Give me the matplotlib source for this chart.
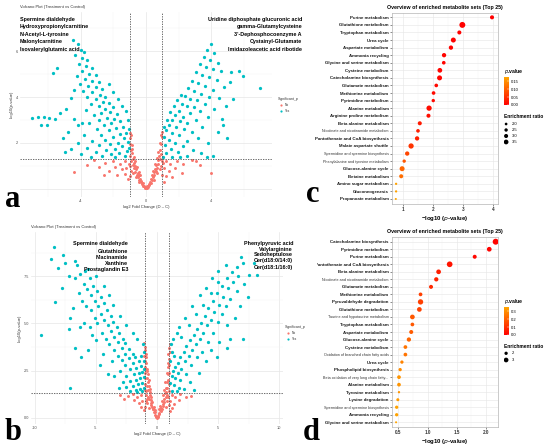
import numpy as np
import matplotlib.pyplot as plt
from matplotlib.colors import LinearSegmentedColormap, Normalize
from matplotlib.cm import ScalarMappable
from matplotlib.transforms import Bbox, TransformedBbox

plt.rcParams['font.family'] = ['Liberation Sans', 'DejaVu Sans']

# ---------------- data ----------------
# panel a volcano: (log2 FC, -log10 p)
a_sig = [
    (-4.5, 6.5), (-4.2, 6.3), (-4.0, 6.05), (-3.8, 5.95), (-4.35, 5.85), (-3.95, 5.7), (-3.6, 5.6),
    (-4.15, 5.45), (-3.7, 5.35), (-3.35, 5.25), (-3.95, 5.15), (-5.7, 5.05), (-5.45, 5.25), (-3.5, 5.0),
    (-3.1, 4.95), (-4.25, 4.9), (-3.75, 4.8), (-3.3, 4.7), (-2.9, 4.65), (-4.05, 4.55), (-3.55, 4.5),
    (-3.05, 4.45), (-2.7, 4.35), (-4.4, 4.3), (-3.85, 4.25), (-3.3, 4.2), (-2.85, 4.1), (-2.5, 4.0),
    (-3.6, 4.0), (-4.6, 3.95), (-3.1, 3.9), (-2.65, 3.8), (-2.3, 3.75), (-3.4, 3.7), (-2.9, 3.6),
    (-2.0, 3.55), (-2.5, 3.5), (-3.7, 3.45), (-2.2, 3.35), (-2.75, 3.3), (-1.8, 3.25), (-3.2, 3.2),
    (-2.4, 3.1), (-1.95, 3.05), (-2.9, 3.0), (-1.6, 2.95), (-2.15, 2.85), (-3.5, 2.85), (-2.6, 2.8),
    (-1.4, 2.7), (-1.85, 2.65), (-3.0, 2.6), (-2.3, 2.55), (-1.2, 2.45), (-1.6, 2.4), (-2.75, 2.35),
    (-3.8, 2.35), (-2.0, 2.25), (-1.35, 2.2), (-2.5, 2.15), (-3.3, 2.1), (-1.1, 2.05), (-1.75, 2.0),
    (-4.2, 2.0), (-2.2, 1.95), (-2.9, 1.9), (-1.45, 1.85), (-3.6, 1.8), (-1.9, 1.75), (-2.45, 1.7),
    (-1.15, 1.65), (-3.1, 1.6), (-1.65, 1.55), (-2.15, 1.5), (-4.0, 1.5), (-2.7, 1.45), (-1.3, 1.45),
    (-1.9, 1.4), (-3.4, 1.4), (-1.05, 2.6), (-1.1, 3.0), (-1.05, 1.8), (-1.25, 3.4), (-1.5, 3.6),
    (-1.7, 3.9), (-2.05, 4.2), (-2.3, 4.55), (-7.0, 3.1), (-6.65, 3.15), (-6.3, 3.15), (-5.95, 3.1),
    (-5.6, 3.05), (-6.45, 2.8), (-6.1, 2.8), (-5.3, 3.3), (-4.95, 3.5), (-4.4, 3.05), (-4.2, 2.8),
    (-3.95, 2.85), (-4.8, 2.5), (-5.1, 2.2), (-4.6, 1.75), (-5.0, 1.6),
    (4.0, 6.3), (3.75, 6.05), (4.2, 5.9), (3.55, 5.75), (3.95, 5.6), (4.4, 5.5), (3.3, 5.45), (3.7, 5.3),
    (4.15, 5.2), (4.6, 5.15), (3.1, 5.1), (3.45, 4.95), (3.9, 4.85), (4.35, 4.75), (2.85, 4.7), (3.2, 4.6),
    (3.65, 4.5), (4.8, 4.45), (2.6, 4.4), (4.1, 4.3), (2.95, 4.25), (3.4, 4.15), (2.4, 4.05), (3.85, 4.0),
    (4.5, 3.95), (2.7, 3.9), (3.15, 3.85), (2.2, 3.7), (3.6, 3.7), (2.5, 3.6), (2.95, 3.55), (4.2, 3.5),
    (2.0, 3.4), (3.3, 3.4), (2.7, 3.3), (1.8, 3.2), (2.3, 3.15), (3.8, 3.15), (1.6, 3.0), (3.05, 3.0),
    (2.1, 2.95), (2.55, 2.85), (1.4, 2.8), (1.85, 2.7), (3.45, 2.7), (2.35, 2.6), (1.2, 2.55), (2.85, 2.5),
    (1.6, 2.45), (4.4, 2.5), (2.05, 2.35), (1.1, 2.25), (3.2, 2.2), (1.4, 2.15), (2.55, 2.1), (1.8, 2.0),
    (3.8, 2.0), (1.15, 1.9), (2.25, 1.85), (1.55, 1.75), (2.9, 1.7), (1.95, 1.6), (1.2, 1.55), (3.4, 1.55),
    (2.5, 1.45), (1.6, 1.4), (1.05, 1.4), (4.1, 1.45), (2.1, 1.4), (1.3, 3.0), (1.5, 3.35), (1.7, 3.6),
    (1.9, 3.85), (2.15, 4.1), (1.1, 2.7), (5.2, 5.1), (5.7, 5.15), (5.95, 4.9), (7.0, 4.4), (4.65, 3.05),
    (5.15, 4.65), (4.9, 3.6), (5.35, 3.9), (4.75, 2.8), (5.0, 2.2), (3.75, 1.4),
]
a_ns = [
    (-1.0, 2.45), (-0.97, 2.2), (-0.99, 1.95), (-0.93, 1.7), (-0.96, 1.45), (-0.9, 1.2), (-0.97, 1.0),
    (-0.88, 1.9), (-0.85, 1.55), (-0.8, 1.3), (-0.82, 1.05), (-0.75, 1.15), (-0.72, 0.9), (-0.68, 1.0),
    (-0.65, 0.75), (-0.6, 0.85), (-0.57, 0.6), (-0.52, 0.7), (-0.48, 0.5), (-0.44, 0.6), (-0.4, 0.4),
    (-0.36, 0.45), (-0.32, 0.3), (-0.28, 0.35), (-0.24, 0.22), (-0.2, 0.25), (-0.16, 0.12), (-0.12, 0.15),
    (-0.08, 0.05), (-0.04, 0.08), (0.0, 0.02), (0.04, 0.06), (0.08, 0.12), (0.12, 0.1), (0.16, 0.22),
    (0.2, 0.18), (0.24, 0.32), (0.28, 0.28), (0.32, 0.45), (0.36, 0.38), (0.4, 0.58), (0.44, 0.5),
    (0.48, 0.72), (0.52, 0.62), (0.56, 0.88), (0.6, 0.78), (0.64, 1.05), (0.68, 0.92), (0.72, 1.25),
    (0.76, 1.1), (0.8, 1.45), (0.84, 1.3), (0.88, 1.7), (0.92, 1.5), (0.95, 1.95), (0.98, 2.25),
    (1.0, 2.5), (0.96, 1.2), (0.9, 1.0), (-0.92, 0.8), (-0.78, 0.7), (-0.62, 0.5), (-0.45, 0.3),
    (0.5, 0.4), (0.7, 0.7), (0.86, 0.85), (-1.3, 1.2), (-1.6, 1.1), (-2.0, 1.2), (-2.5, 1.15),
    (-3.2, 1.25), (-1.2, 0.9), (-1.5, 0.85), (-1.9, 0.95), (-2.3, 0.8), (-2.9, 0.95), (-3.6, 1.05),
    (-1.3, 0.65), (-1.8, 0.6), (-2.6, 0.6), (-4.4, 0.75), (-1.1, 0.45), (-1.05, 1.1), (1.2, 1.2),
    (1.5, 1.1), (1.9, 1.2), (2.3, 1.1), (2.8, 1.25), (1.1, 0.9), (1.4, 0.8), (1.8, 0.9), (2.2, 0.7),
    (1.2, 0.55), (1.6, 0.5), (4.0, 0.68), (3.3, 1.05), (1.1, 0.3), (1.05, 1.15), (3.1, 1.2),
    (-0.94, 2.35), (-0.86, 1.75), (-0.76, 1.4), (-0.66, 1.2), (-0.56, 0.95), (-0.46, 0.75), (-0.36, 0.6),
    (0.36, 0.6), (0.46, 0.8), (0.56, 1.1), (0.66, 1.35), (0.76, 1.6), (0.86, 2.0), (0.93, 2.35),
    (-0.98, 0.55), (0.98, 0.6),
]
a_down_names = ["Spermine dialdehyde", "Hydroxypropionylcarnitine", "N-Acetyl-L-tyrosine",
                "Malonylcarnitine", "Isovalerylglutamic acid"]
a_up_names = ["Uridine diphosphate glucuronic acid", "gamma-Glutamylcysteine",
              "3'-Dephosphocoenzyme A", "Cystainyl-Glutamate", "Imidazoleacetic acid ribotide"]

# panel b volcano
b_sig = [
    (-8.4, 9.05), (-8.7, 8.4), (-7.7, 8.6), (-8.1, 7.95), (-7.5, 8.2), (-6.7, 8.3), (-6.55, 8.1),
    (-7.8, 6.9), (-8.3, 6.15), (-9.45, 4.4), (-7.1, 5.3), (-7.2, 4.7), (-6.7, 3.7), (-6.2, 3.25),
    (-7.1, 1.57), (-6.9, 5.8), (-6.3, 4.8), (-6.3, 7.6), (-5.9, 7.8), (-5.5, 7.4), (-6.0, 7.1),
    (-5.2, 7.0), (-5.7, 6.8), (-6.4, 6.6), (-4.9, 6.7), (-5.4, 6.5), (-6.1, 6.2), (-4.6, 6.4),
    (-5.1, 6.2), (-5.8, 5.9), (-4.3, 6.1), (-4.8, 5.9), (-5.4, 5.7), (-4.1, 5.7), (-4.6, 5.5),
    (-5.1, 5.3), (-3.8, 5.4), (-4.3, 5.2), (-4.9, 5.0), (-3.6, 5.1), (-4.0, 4.9), (-5.5, 4.8),
    (-3.3, 4.8), (-3.8, 4.6), (-4.5, 4.5), (-3.1, 4.5), (-3.5, 4.3), (-4.2, 4.2), (-2.8, 4.2),
    (-3.2, 4.0), (-3.9, 3.9), (-2.6, 3.95), (-5.0, 4.1), (-2.9, 3.7), (-3.5, 3.6), (-2.3, 3.65),
    (-2.0, 3.4), (-2.6, 3.4), (-3.2, 3.3), (-4.4, 3.4), (-1.8, 3.2), (-2.3, 3.15), (-2.9, 3.05),
    (-3.7, 3.0), (-1.5, 3.0), (-2.0, 2.9), (-2.6, 2.8), (-1.3, 2.75), (-1.7, 2.65), (-2.2, 2.6),
    (-3.0, 2.5), (-1.2, 2.45), (-1.5, 2.4), (-1.9, 2.3), (-2.5, 2.2), (-3.5, 2.2), (-1.1, 2.15),
    (-1.4, 2.1), (-1.75, 2.0), (-2.2, 1.95), (-2.8, 1.9), (-1.2, 1.85), (-1.55, 1.8), (-1.95, 1.7),
    (-2.5, 1.65), (-1.1, 1.6), (-1.35, 1.55), (-1.75, 1.5), (-2.2, 1.45), (-3.1, 1.6), (-1.2, 1.4),
    (-1.6, 1.38), (-1.05, 3.0), (-1.1, 3.5), (-1.15, 3.9), (-1.3, 3.3), (-1.05, 2.6), (-4.7, 2.8),
    (-4.0, 2.3), (-5.6, 3.6), (-6.0, 5.0), (-5.3, 4.4), (-6.7, 7.4), (-7.2, 7.5), (-3.9, 6.5),
    (-3.6, 6.0), (-3.0, 5.4), (-2.5, 4.9), (-2.0, 4.5), (-1.6, 4.2), (-4.3, 7.0), (-5.0, 7.5),
    (-5.6, 7.9),
    (6.9, 8.5), (7.9, 8.2), (7.5, 7.57), (8.2, 7.57), (7.0, 8.2), (6.5, 8.0), (6.1, 7.7), (6.6, 7.5),
    (5.7, 7.4), (6.2, 7.2), (7.1, 7.1), (5.3, 7.0), (5.8, 6.9), (6.5, 6.7), (4.9, 6.6), (5.4, 6.4),
    (6.0, 6.3), (4.6, 6.2), (5.1, 6.0), (5.6, 5.9), (6.8, 5.9), (4.2, 5.8), (4.7, 5.6), (5.3, 5.5),
    (3.9, 5.4), (4.4, 5.2), (5.0, 5.1), (3.6, 5.0), (4.1, 4.9), (5.7, 4.9), (3.3, 4.7), (3.8, 4.5),
    (4.6, 4.5), (3.0, 4.4), (3.5, 4.2), (2.7, 4.1), (4.2, 4.0), (3.2, 3.9), (2.4, 3.8), (2.9, 3.6),
    (3.7, 3.5), (2.2, 3.5), (2.6, 3.3), (3.3, 3.2), (1.9, 3.2), (2.3, 3.0), (4.0, 3.0), (1.7, 2.9),
    (2.8, 2.8), (1.5, 2.7), (2.0, 2.6), (1.3, 2.5), (1.7, 2.4), (2.4, 2.3), (3.4, 2.4), (1.2, 2.2),
    (1.5, 2.1), (1.9, 2.0), (2.7, 1.9), (1.1, 1.85), (1.4, 1.75), (1.8, 1.6), (2.2, 1.55), (1.2, 1.45),
    (1.6, 1.4), (3.0, 1.5), (1.1, 3.0), (1.2, 3.5), (1.15, 3.9), (1.3, 4.2), (1.6, 4.5), (1.4, 3.3),
    (6.0, 4.2), (7.0, 4.2), (5.7, 3.7), (4.9, 3.25), (6.4, 5.3), (7.4, 6.4), (5.1, 4.0), (4.4, 3.6),
    (1.8, 4.8), (2.3, 5.3), (2.9, 5.9), (3.5, 6.5), (4.0, 6.9), (4.5, 7.4), (5.0, 7.8), (5.6, 8.1),
    (2.0, 4.3), (2.6, 4.9), (3.2, 5.5), (3.8, 6.0), (4.4, 6.6), (5.0, 7.2),
]
b_ns = [
    (-1.05, 3.95), (-1.0, 3.6), (-1.03, 3.3), (-0.98, 3.0), (-1.02, 2.7), (-0.95, 2.4), (-1.0, 2.1),
    (-0.96, 1.8), (-1.0, 1.5), (-0.93, 1.2), (-0.9, 3.4), (-0.88, 2.9), (-0.85, 2.5), (-0.82, 2.1),
    (-0.8, 1.7), (-0.86, 1.4), (-0.75, 2.3), (-0.72, 1.9), (-0.7, 1.5), (-0.74, 1.1), (-0.65, 1.7),
    (-0.6, 1.35), (-0.62, 1.0), (-0.55, 1.2), (-0.5, 0.95), (-0.52, 0.7), (-0.45, 0.8), (-0.4, 0.6),
    (-0.36, 0.45), (-0.3, 0.5), (-0.26, 0.3), (-0.2, 0.3), (-0.15, 0.15), (-0.1, 0.12), (-0.05, 0.05),
    (0.0, 0.0), (0.05, 0.06), (0.1, 0.12), (0.15, 0.2), (0.2, 0.28), (0.25, 0.4), (0.3, 0.35),
    (0.35, 0.55), (0.4, 0.5), (0.45, 0.75), (0.5, 0.65), (0.55, 1.0), (0.6, 0.85), (0.65, 1.3),
    (0.7, 1.1), (0.72, 1.6), (0.76, 1.35), (0.8, 1.9), (0.84, 1.6), (0.86, 2.3), (0.9, 2.0),
    (0.92, 2.7), (0.95, 2.4), (0.98, 3.1), (1.0, 2.8), (1.03, 3.5), (1.05, 3.9), (1.0, 1.8),
    (0.96, 1.4), (0.9, 1.1), (-0.92, 0.9), (-0.8, 0.8), (-0.65, 0.55), (0.7, 0.6), (0.85, 0.9),
    (-1.3, 1.2), (-1.6, 1.1), (-2.0, 1.25), (-2.4, 1.15), (-1.2, 0.9), (-1.5, 0.8), (-1.9, 0.95),
    (-2.7, 1.0), (-1.3, 0.6), (-1.1, 0.4), (-3.0, 1.2), (1.2, 1.2), (1.5, 1.1), (1.9, 1.25),
    (2.4, 1.1), (1.1, 0.9), (1.4, 0.75), (1.8, 0.95), (2.8, 1.15), (1.2, 0.55), (1.05, 0.35),
    (-0.98, 3.75), (-0.94, 3.2), (-0.9, 2.6), (-0.78, 2.6), (-0.68, 2.0), (-0.58, 1.55), (-0.48, 1.1),
    (-0.38, 0.85), (-0.28, 0.6), (-0.18, 0.4), (0.18, 0.45), (0.28, 0.65), (0.38, 0.9), (0.48, 1.2),
    (0.58, 1.5), (0.68, 1.9), (0.78, 2.4), (0.88, 2.9), (0.94, 3.4), (0.99, 3.7), (-0.95, 0.6),
    (0.95, 0.7), (-0.85, 1.0), (0.8, 1.2),
]
b_down_names = ["Spermine dialdehyde", "Glutathione", "Niacinamide", "Xanthine", "Prostaglandin E3"]
b_up_names = ["Phenylpyruvic acid", "Valylarginine", "Sedoheptulose", "Cer(d18:0/14:0)", "Cer(d18:1/16:0)"]

# panel c enrichment (Top 25)
c_sets = ["Purine metabolism", "Glutathione metabolism", "Tryptophan metabolism", "Urea cycle",
          "Aspartate metabolism", "Ammonia recycling", "Glycine and serine metabolism",
          "Cysteine metabolism", "Catecholamine biosynthesis", "Glutamate metabolism",
          "Methionine metabolism", "Pyrimidine metabolism", "Alanine metabolism",
          "Arginine proline metabolism", "Beta alanine metabolism",
          "Nicotinate and nicotinamide metabolism", "Pantothenate and CoA biosynthesis",
          "Malate aspartate shuttle", "Spermidine and spermine biosynthesis",
          "Phenylalanine and tyrosine metabolism", "Glucose-alanine cycle", "Betaine metabolism",
          "Amino sugar metabolism", "Gluconeogenesis", "Propanoate metabolism"]
c_logp = [3.97, 2.98, 2.88, 2.68, 2.60, 2.37, 2.36, 2.23, 2.22, 2.11, 2.02, 2.01, 1.87,
          1.85, 1.56, 1.50, 1.47, 1.27, 1.14, 1.04, 0.97, 0.94, 0.77, 0.77, 0.76]
c_ratio = [3.0, 4.4, 3.0, 3.7, 3.2, 3.2, 2.7, 3.5, 3.7, 2.7, 2.7, 2.5, 3.9,
           3.0, 3.0, 2.7, 3.2, 3.9, 3.2, 2.5, 3.7, 3.0, 1.7, 1.7, 1.5]

# panel d enrichment (Top 25)
d_sets = ["Catecholamine biosynthesis", "Pyrimidine metabolism", "Purine metabolism",
          "Pantothenate and CoA biosynthesis", "Beta alanine metabolism",
          "Nicotinate and nicotinamide metabolism", "Glutamate metabolism", "Methionine metabolism",
          "Pyruvaldehyde degradation", "Glutathione metabolism", "Taurine and hypotaurine metabolism",
          "Tryptophan metabolism", "Aspartate metabolism", "Glucose-alanine cycle",
          "Cysteine metabolism", "Oxidation of branched chain fatty acids", "Urea cycle",
          "Phospholipid biosynthesis", "Beta oxidation of very long chain fatty...",
          "Alanine metabolism", "Tyrosine metabolism", "Lysine degradation",
          "Spermidine and spermine biosynthesis", "Ammonia recycling", "Glycine and serine metabolism"]
d_logp = [2.17, 2.06, 1.81, 1.38, 1.19, 1.15, 1.06, 0.88, 0.88, 0.86, 0.74, 0.74, 0.72,
          0.68, 0.62, 0.62, 0.56, 0.53, 0.51, 0.51, 0.51, 0.49, 0.47, 0.47, 0.46]
d_ratio = [3.9, 3.0, 2.5, 3.7, 3.0, 2.7, 2.5, 2.3, 3.45, 3.0, 3.0, 2.3, 2.5,
           2.7, 2.3, 2.3, 2.0, 2.0, 2.3, 2.3, 1.3, 1.8, 2.0, 2.0, 1.1]

FC_CUT = 1.0
P_CUT = -np.log10(0.05)

# ---------------- layout helpers ----------------
W, H = 550, 447
fig = plt.figure(figsize=(W / 100, H / 100), dpi=100)

NO_COL = '#F8766D'
YES_COL = '#00BFC4'
CMAP = LinearSegmentedColormap.from_list('pv', ['#FF0000', '#FFA500'])


def px_box(l, t, r, b):
    return [l / W, 1 - b / H, (r - l) / W, (b - t) / H]


def volcano(rect, sig, ns, xlim, ylim, xt, xtl, yt, ytl, xm, ym):
    ax = fig.add_axes(px_box(*rect))
    sig = np.array(sig)
    ns = np.array(ns)
    for s in ax.spines.values():
        s.set_visible(False)
    ax.set_xlim(xlim)
    ax.set_ylim(ylim)
    ax.set_xticks(xt)
    ax.set_xticklabels(xtl)
    ax.set_yticks(yt)
    ax.set_yticklabels(ytl)
    ax.set_xticks(xm, minor=True)
    ax.set_yticks(ym, minor=True)
    ax.grid(which='major', color='#E6E6E6', lw=0.5)
    ax.grid(which='minor', color='#F3F3F3', lw=0.35)
    ax.set_axisbelow(True)
    ax.tick_params(which='both', length=0, labelsize=2.8, labelcolor='#4D4D4D', pad=1.5)
    ax.scatter(ns[:, 0], ns[:, 1], s=4.5, color=NO_COL, lw=0)
    ax.scatter(sig[:, 0], sig[:, 1], s=5.5, color=YES_COL, lw=0)
    for v in (-FC_CUT, FC_CUT):
        ax.axvline(v, color='#555555', lw=0.6, ls=(0, (1.6, 1.4)))
    ax.axhline(P_CUT, color='#555555', lw=0.6, ls=(0, (1.6, 1.4)))
    ax.set_xlabel('log2 Fold Change (D \u2013 C)', fontsize=3, color='#333333', labelpad=1.5)
    ax.set_ylabel('-log10(p-value)', fontsize=3, color='#333333', labelpad=1.5)
    ax.set_title('Volcano Plot (Treatment vs Control)', loc='left', fontsize=3,
                 color='#333333', pad=3)
    return ax


def dotplot(rect, sets, logp, ratio, xlim, xt, xtl, diam, cticks, ctl, cbar_rect,
            ptitle_y, stitle_y, size_vals, size_ys):
    ax = fig.add_axes(px_box(*rect))
    n = len(sets)
    ypos = np.arange(n)
    logp = np.asarray(logp)
    pvals = 10 ** (-logp)
    norm = Normalize(0, pvals.max())
    sizes = (diam(np.asarray(ratio)) * 0.72) ** 2
    ax.scatter(logp, ypos, s=sizes, c=pvals, cmap=CMAP, norm=norm, lw=0, zorder=3)
    ax.set_xlim(xlim)
    ax.set_ylim(n - 0.4, -0.6)
    ax.set_xticks(xt)
    ax.set_xticklabels(xtl)
    ax.set_xticks([(a + b) / 2 for a, b in zip(xt[:-1], xt[1:])], minor=True)
    ax.set_yticks(ypos)
    ax.set_yticklabels(sets)
    ax.grid(which='major', color='#E8E8E8', lw=0.45)
    ax.grid(which='minor', axis='x', color='#F3F3F3', lw=0.35)
    ax.set_axisbelow(True)
    for s in ax.spines.values():
        s.set_color('#B5B5B5')
        s.set_linewidth(0.5)
    ax.tick_params(axis='both', which='major', length=1.5, width=0.4, color='#333333', pad=1)
    ax.tick_params(axis='x', which='minor', length=0)
    ax.tick_params(axis='x', labelsize=3.3)
    for t in ax.get_xticklabels():
        t.set_fontweight('bold')
        t.set_color('#333333')
    for name, t in zip(sets, ax.get_yticklabels()):
        if len(name) > 33:
            t.set_fontsize(2.7)
            t.set_color('#333333')
        else:
            t.set_fontsize(3.2)
            t.set_fontweight('bold')
            t.set_color('#1A1A1A')
    ax.set_xlabel('\u2212log10 ($\\it{p}$-value)', fontsize=4.3, fontweight='bold', labelpad=1.5)
    ax.set_title('Overview of enriched metabolite sets (Top 25)', fontsize=3.8,
                 fontweight='bold', pad=3)

    # colour bar for p.value
    cax = fig.add_axes(px_box(*cbar_rect))
    cb = fig.colorbar(ScalarMappable(norm=norm, cmap=CMAP), cax=cax, ticks=cticks)
    cb.outline.set_visible(False)
    cb.set_ticklabels(ctl)
    cax.tick_params(length=1.2, width=0.3, color='white', direction='in', labelsize=3, pad=1.5)
    fig.text(cbar_rect[0] / W, 1 - ptitle_y / H, '$\\it{p}$.value', fontsize=3.7,
             fontweight='bold', va='center', ha='left')

    # size legend for Enrichment ratio
    fig.text(cbar_rect[0] / W, 1 - stitle_y / H, 'Enrichment ratio', fontsize=3.5,
             fontweight='bold', va='center', ha='left')
    for v, yy in zip(size_vals, size_ys):
        fig.text((cbar_rect[0] + 7.5) / W, 1 - yy / H, str(v), fontsize=3, va='center', ha='left')
    sax = fig.add_axes(px_box(cbar_rect[0], size_ys[0] - 4, cbar_rect[0] + 6, size_ys[-1] + 4))
    sax.set_xlim(0, 1)
    sax.set_ylim(size_ys[-1] + 4, size_ys[0] - 4)
    sax.axis('off')
    sax.scatter([0.35] * len(size_vals), size_ys,
                s=(diam(np.asarray(size_vals, dtype=float)) * 0.72) ** 2, color='black', lw=0)
    return ax


# ---------------- panels ----------------
# the "0" label of panel a sits under the panel letter in the figure
ax_a = volcano((20, 12, 272, 197), a_sig, a_ns, (-7.75, 7.75), (-0.35, 7.7),
               [-4, 0, 4], ['-4', '0', '4'], [0, 2, 4, 6], ['', '2', '4', '6'],
               [-6, -2, 2, 6], [1, 3, 5, 7])
ax_b = volcano((31, 232, 283, 424), b_sig, b_ns, (-10.3, 10.3), (-0.32, 9.84),
               [-10, -5, 0, 5, 10], ['-10', '-5', '0', '5', '10'],
               [0, 2.5, 5, 7.5], ['0.0', '2.5', '5.0', '7.5'],
               [-7.5, -2.5, 2.5, 7.5], [1.25, 3.75, 6.25, 8.75])

ax_c = dotplot((392, 12.8, 498, 203.5), c_sets, c_logp, c_ratio, (0.633, 4.17),
               [1, 2, 3, 4], ['1', '2', '3', '4'], lambda r: 1.35 * r,
               [0.0, 0.05, 0.10, 0.15], ['0.00', '0.05', '0.10', '0.15'],
               (504, 77.3, 508.5, 105), 72, 117, [2.0, 2.5, 3.0, 3.5], [124, 130, 136, 142])
ax_d = dotplot((392, 237.2, 498, 426.8), d_sets, d_logp, d_ratio, (0.39, 2.21),
               [0.5, 1.0, 1.5, 2.0], ['0.5', '1.0', '1.5', '2.0'], lambda r: 1.4 * r + 0.5,
               [0.0, 0.1, 0.2, 0.3], ['0.0', '0.1', '0.2', '0.3'],
               (504, 307.3, 508.5, 335), 302, 347, [2, 3], [353.3, 360])

# long labels of panel d are cut at the left by the neighbouring panel
clip = TransformedBbox(Bbox([[317 / W, 0], [1, 1]]), fig.transFigure)
for t in ax_d.get_yticklabels():
    t.set_clip_box(clip)
    t.set_clip_on(True)

# ---------------- overlay: labels, legends, panel letters ----------------
ov = fig.add_axes([0, 0, 1, 1], zorder=10)
ov.set_xlim(0, W)
ov.set_ylim(H, 0)
ov.axis('off')
ov.patch.set_alpha(0)

for name, yy in zip(a_down_names, [19, 26.7, 34.3, 42, 49.7]):
    ov.text(20, yy, name, fontsize=3.9, fontweight='bold', ha='left', va='center')
for name, yy in zip(a_up_names, [19, 26.7, 34.3, 42, 49.7]):
    ov.text(302, yy, name, fontsize=3.9, fontweight='bold', ha='right', va='center')
for name, yy in zip(b_down_names, [244, 251.7, 257.7, 263.3, 269.3]):
    ov.text(128, yy, name, fontsize=3.9, fontweight='bold', ha='right', va='center')
for name, yy in zip(b_up_names, [243, 249, 254.5, 260.5, 267]):
    ov.text(293, yy, name, fontsize=3.9, fontweight='bold', ha='right', va='center')

# volcano legends
for (lx, ly) in [(278, 98.7), (285, 327)]:
    ov.text(lx, ly, 'Significant_p', fontsize=2.6, color='#333333', ha='left', va='center')
    for k, (lab, col) in enumerate([('No', NO_COL), ('Yes', YES_COL)]):
        yy = ly + 6 + 6 * k
        ov.scatter([lx + 2.5], [yy], s=2.5, color=col, lw=0)
        ov.text(lx + 6.5, yy, lab, fontsize=2.3, color='#333333', ha='left', va='center')

for letter, (lx, ly) in zip('abcd', [(5, 207), (5, 440), (306, 202), (303, 440)]):
    ov.text(lx, ly, letter, fontsize=22, fontweight='bold', family='Liberation Serif',
            ha='left', va='baseline')

fig.savefig('out.png', dpi=100)
